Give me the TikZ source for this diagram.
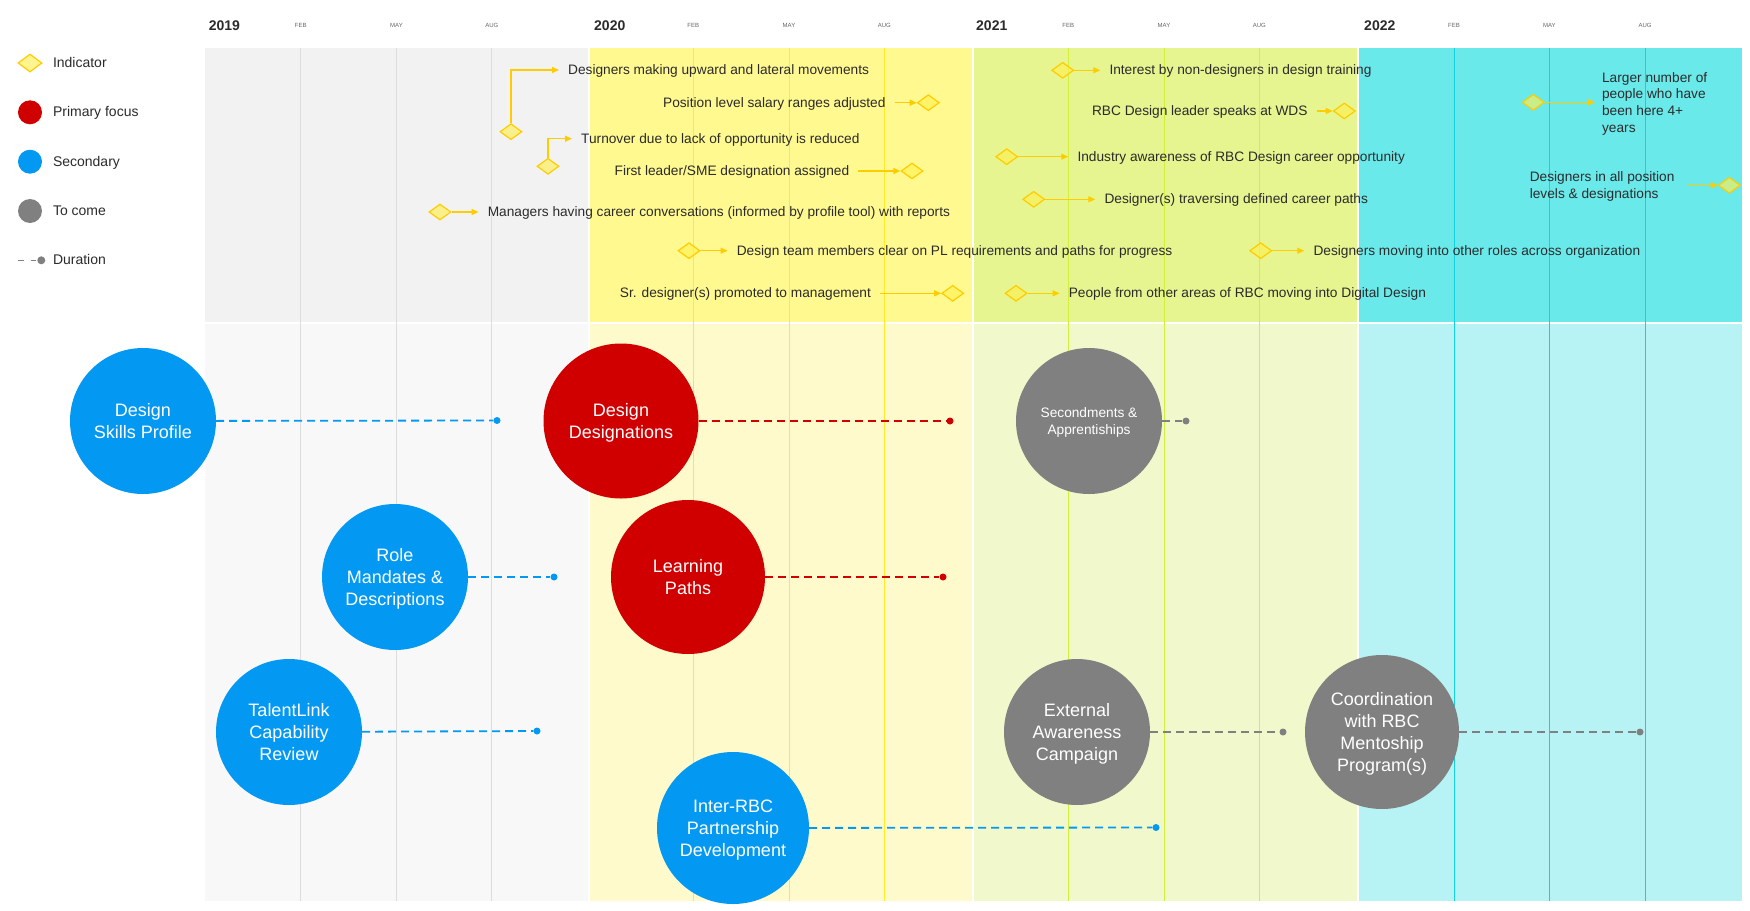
\documentclass[tikz,border=0pt]{standalone}
\usepackage{fontspec}
\setmainfont{Liberation Sans}
\usetikzlibrary{shapes,arrows.meta,positioning}

\definecolor{greytop}{HTML}{F2F2F2}
\definecolor{greybot}{HTML}{F8F8F8}
\definecolor{yellowtop}{HTML}{FFF98F}
\definecolor{yellowbot}{HTML}{FFFACC}
\definecolor{greentop}{HTML}{E6F58F}
\definecolor{greenbot}{HTML}{F1F9CC}
\definecolor{cyantop}{HTML}{6AE9EB}
\definecolor{cyanbot}{HTML}{B7F3F4}
\definecolor{greyline}{HTML}{DDDDDD}
\definecolor{yellowline}{HTML}{FFEB2A}
\definecolor{greenline}{HTML}{D4EE3C}
\definecolor{cyanline}{HTML}{12D2DC}
\definecolor{secblue}{HTML}{0399F3}
\definecolor{primred}{HTML}{D00000}
\definecolor{comegrey}{HTML}{808080}
\definecolor{gold}{HTML}{FFCC00}
\definecolor{diafill}{HTML}{FFF050}
\definecolor{textgrey}{HTML}{2B2B2B}
\definecolor{monthgrey}{HTML}{666666}

\begin{document}
\begin{tikzpicture}[x=1pt,y=-1pt]
    \tikzstyle{every node}=[font=\fontsize{13.7}{16.5}\selectfont, text=textgrey]
    \tikzstyle{month}=[font=\fontsize{6}{7}\selectfont, text=monthgrey]
    \tikzstyle{year}=[font=\fontsize{14}{16}\selectfont\bfseries, anchor=west, inner sep=0pt]
    \tikzstyle{legtext}=[font=\fontsize{14}{16}\selectfont, anchor=west, inner sep=0pt, text height=11pt, text depth=2pt]
    \tikzstyle{indicator}=[diamond, draw=gold, line width=1.2pt, fill=diafill, fill opacity=0.63, minimum width=22pt, minimum height=16pt, inner sep=0pt]
    \tikzstyle{itext}=[inner xsep=9pt, inner ysep=1pt, text height=11pt, text depth=1.9pt]
    \tikzstyle{imulti}=[inner xsep=7pt, inner ysep=1pt, align=left, font=\fontsize{13.7}{16.8}\selectfont, text depth=0pt]
    \tikzstyle{iarrow}=[draw=gold, line width=1.3pt, -{Triangle[length=7pt,width=6pt]}]
    \tikzstyle{focus}=[circle, text=white, align=center, inner sep=0pt, text depth=0pt, font=\fontsize{18}{22}\selectfont]
    \tikzstyle{dot}=[circle, inner sep=0pt, minimum size=7pt]
    \tikzstyle{duration}=[line width=1.8pt, dash pattern=on 8pt off 5pt]

    \path[fill=white, use as bounding box] (0,0) rectangle (1750,910);

    \fill[greytop] (204.7,48) rectangle (588,322);
    \fill[yellowtop] (589.5,48) rectangle (972,322);
    \fill[greentop] (973.5,48) rectangle (1357,322);
    \fill[cyantop] (1358.5,48) rectangle (1741.7,322);
    \fill[greybot] (204.7,324) rectangle (588,901);
    \fill[yellowbot] (589.5,324) rectangle (972,901);
    \fill[greenbot] (973.5,324) rectangle (1357,901);
    \fill[cyanbot] (1358.5,324) rectangle (1741.7,901);

    \draw[greyline, line width=0.8pt] (300.8,48) -- (300.8,901) (396.5,48) -- (396.5,901) (491.8,48) -- (491.8,901);
    \draw[yellowline, line width=0.8pt] (693.3,48) -- (693.3,901) (789,48) -- (789,901) (884.3,48) -- (884.3,901);
    \draw[greenline, line width=0.9pt] (1068.3,48) -- (1068.3,901) (1164,48) -- (1164,901) (1259.3,48) -- (1259.3,901);
    \draw[cyanline, line width=1pt] (1454,48) -- (1454,901) (1549.3,48) -- (1549.3,901) (1645,48) -- (1645,901);

    \node[year] (y2019) at (208.6,26) {2019};
    \node[year] (y2020) at (594,26) {2020};
    \node[year] (y2021) at (976,26) {2021};
    \node[year] (y2022) at (1364,26) {2022};
    \node[month] (feb19) at (300.8,25) {FEB};
    \node[month] (may19) at (396.5,25) {MAY};
    \node[month] (aug19) at (491.8,25) {AUG};
    \node[month] (feb20) at (693.3,25) {FEB};
    \node[month] (may20) at (789,25) {MAY};
    \node[month] (aug20) at (884.3,25) {AUG};
    \node[month] (feb21) at (1068.3,25) {FEB};
    \node[month] (may21) at (1164,25) {MAY};
    \node[month] (aug21) at (1259.3,25) {AUG};
    \node[month] (feb22) at (1454,25) {FEB};
    \node[month] (may22) at (1549.3,25) {MAY};
    \node[month] (aug22) at (1645,25) {AUG};

    \node[indicator, minimum width=24pt, minimum height=18pt] (leg-ind) at (30,63) {};
    \node[circle, fill=primred, minimum size=24pt, inner sep=0pt] (leg-prim) at (30,112.3) {};
    \node[circle, fill=secblue, minimum size=24pt, inner sep=0pt] (leg-sec) at (30,161.7) {};
    \node[circle, fill=comegrey, minimum size=24pt, inner sep=0pt] (leg-come) at (30,211) {};
    \node[dot, fill=comegrey, minimum size=8pt] (leg-dur) at (41.3,260.3) {};
    \coordinate (leg-dur-start) at (18.4,260.3);
    \draw[comegrey, line width=1.5pt, dash pattern=on 5.3pt off 7pt] (leg-dur-start) -- (leg-dur);
    \node[legtext] (leg-ind-text) at (52.8,63) {Indicator};
    \node[legtext] (leg-prim-text) at (52.8,112.3) {Primary focus};
    \node[legtext] (leg-sec-text) at (52.8,161.7) {Secondary};
    \node[legtext] (leg-come-text) at (52.8,211) {To come};
    \node[legtext] (leg-dur-text) at (52.8,260.3) {Duration};

    \node[indicator] (d1) at (511,131.7) {};
    \node[itext, anchor=west] (t1) at (559,70) {Designers making upward and lateral movements};
    \draw[iarrow] (d1) |- (t1);
    \node[indicator] (d2) at (548,166.3) {};
    \node[itext, anchor=west] (t2) at (572,138.7) {Turnover due to lack of opportunity is reduced};
    \draw[iarrow] (d2) |- (t2);
    \node[indicator] (d3) at (440,212) {};
    \node[itext, right=27pt of d3] (t3) {Managers having career conversations (informed by profile tool) with reports};
    \draw[iarrow] (d3) -- (t3);
    \node[indicator] (d4) at (928.3,102.7) {};
    \node[itext, left=22pt of d4] (t4) {Position level salary ranges adjusted};
    \draw[iarrow] (t4) -- (d4);
    \node[indicator] (d5) at (912,171) {};
    \node[itext, left=42pt of d5] (t5) {First leader/SME designation assigned};
    \draw[iarrow] (t5) -- (d5);
    \node[indicator] (d6) at (689,250.7) {};
    \node[itext, right=27pt of d6] (t6) {Design team members clear on PL requirements and paths for progress};
    \draw[iarrow] (d6) -- (t6);
    \node[indicator] (d7) at (952.7,293.3) {};
    \node[itext, left=61pt of d7] (t7) {Sr. designer(s) promoted to management};
    \draw[iarrow] (t7) -- (d7);
    \node[indicator] (d8) at (1062.7,70.3) {};
    \node[itext, right=26pt of d8] (t8) {Interest by non-designers in design training};
    \draw[iarrow] (d8) -- (t8);
    \node[indicator] (d9) at (1344.3,111) {};
    \node[itext, left=16pt of d9] (t9) {RBC Design leader speaks at WDS};
    \draw[iarrow] (t9) -- (d9);
    \node[indicator] (d10) at (1006.7,156.7) {};
    \node[itext, right=50pt of d10] (t10) {Industry awareness of RBC Design career opportunity};
    \draw[iarrow] (d10) -- (t10);
    \node[indicator] (d11) at (1033.7,199.3) {};
    \node[itext, right=50pt of d11] (t11) {Designer(s) traversing defined career paths};
    \draw[iarrow] (d11) -- (t11);
    \node[indicator] (d12) at (1260.7,250.7) {};
    \node[itext, right=32pt of d12] (t12) {Designers moving into other roles across organization};
    \draw[iarrow] (d12) -- (t12);
    \node[indicator] (d13) at (1016,293.3) {};
    \node[itext, right=32pt of d13] (t13) {People from other areas of RBC moving into Digital Design};
    \draw[iarrow] (d13) -- (t13);
    \node[indicator] (d14) at (1533.3,102.3) {};
    \node[imulti, right=50pt of d14] (t14) {Larger number of\\people who have\\been here 4+\\years};
    \draw[iarrow] (d14) -- (t14);
    \node[indicator] (d15) at (1729.3,185.3) {};
    \node[imulti, inner xsep=13pt, left=30pt of d15] (t15) {Designers in all position\\levels \& designations};
    \draw[iarrow] (t15) -- (d15);

    \node[dot, fill=secblue] (skills-end) at (497,420.5) {};
    \node[dot, fill=secblue] (role-end) at (554,577) {};
    \node[dot, fill=secblue] (talent-end) at (537,731) {};
    \node[dot, fill=primred] (designations-end) at (950,421) {};
    \node[dot, fill=primred] (learning-end) at (943,577) {};
    \node[dot, fill=secblue] (inter-end) at (1156,827.5) {};
    \node[dot, fill=comegrey] (second-end) at (1186,421) {};
    \node[dot, fill=comegrey] (external-end) at (1283,732) {};
    \node[dot, fill=comegrey] (mentor-end) at (1640,732) {};

    \node[focus, fill=secblue, minimum size=146pt] (skills) at (143,421) {Design\\Skills Profile};
    \node[focus, fill=secblue, minimum size=146pt] (role) at (395,577) {Role\\Mandates \&\\Descriptions};
    \node[focus, fill=secblue, minimum size=146pt] (talent) at (289,732) {TalentLink\\Capability\\Review};
    \node[focus, fill=primred, minimum size=155pt] (designations) at (621,421) {Design\\Designations};
    \node[focus, fill=primred, minimum size=154pt] (learning) at (688,577) {Learning\\Paths};
    \node[focus, fill=secblue, minimum size=152pt] (inter) at (733,828) {Inter-RBC\\Partnership\\Development};
    \node[focus, fill=comegrey, minimum size=146pt, font=\fontsize{13.7}{17}\selectfont] (second) at (1089,421) {Secondments \&\\Apprentiships};
    \node[focus, fill=comegrey, minimum size=146pt] (external) at (1077,732) {External\\Awareness\\Campaign};
    \node[focus, fill=comegrey, minimum size=154pt] (mentor) at (1382,732) {Coordination\\with RBC\\Mentoship\\Program(s)};

    \draw[duration, secblue] (skills) -- (skills-end);
    \draw[duration, secblue] (role) -- (role-end);
    \draw[duration, secblue] (talent) -- (talent-end);
    \draw[duration, primred] (designations) -- (designations-end);
    \draw[duration, primred] (learning) -- (learning-end);
    \draw[duration, secblue] (inter) -- (inter-end);
    \draw[duration, comegrey] (second) -- (second-end);
    \draw[duration, comegrey] (external) -- (external-end);
    \draw[duration, comegrey] (mentor) -- (mentor-end);
\end{tikzpicture}
\end{document}
